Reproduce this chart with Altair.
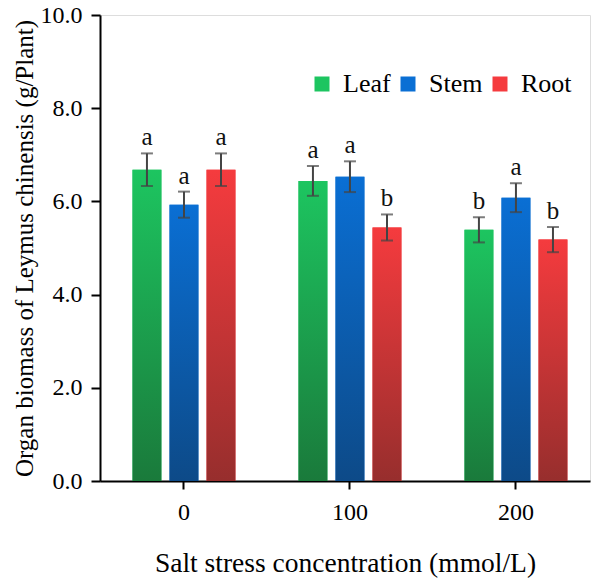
import altair as alt
import pandas as pd

concentrations = ["0", "100", "200"]
organs = ["Leaf", "Stem", "Root"]
leaf = [6.68, 6.44, 5.39]
stem = [5.93, 6.53, 6.08]
root = [6.68, 5.44, 5.18]
leaf_err = [0.35, 0.32, 0.27]
stem_err = [0.28, 0.33, 0.31]
root_err = [0.35, 0.28, 0.27]
leaf_sig = ["a", "a", "b"]
stem_sig = ["a", "a", "a"]
root_sig = ["a", "b", "b"]

top_colors = {"Leaf": "#1dc560", "Stem": "#0a6fd4", "Root": "#f53b3e"}
bottom_colors = {"Leaf": "#1a7a3b", "Stem": "#0d4a88", "Root": "#972e2d"}

rows = []
for organ, vals, errs, sigs in [("Leaf", leaf, leaf_err, leaf_sig),
                                ("Stem", stem, stem_err, stem_sig),
                                ("Root", root, root_err, root_sig)]:
    for c, v, e, s in zip(concentrations, vals, errs, sigs):
        rows.append({"conc": c, "organ": organ, "value": v,
                     "lo": v - e, "hi": v + e, "sig": s})
df = pd.DataFrame(rows)

FONT = "Liberation Serif"

x = alt.X("conc:N", sort=concentrations,
          scale=alt.Scale(paddingInner=0.38, paddingOuter=0.166, align=0.59),
          axis=alt.Axis(title="Salt stress concentration (mmol/L)", labelAngle=0,
                        labelFontSize=24, titleFontSize=27.5, labelPadding=11,
                        titlePadding=25, tickSize=8, domainColor="black",
                        tickColor="black", labelColor="black", titleColor="black",
                        labelFont=FONT, titleFont=FONT, domainWidth=2, tickWidth=2,
                        titleFontWeight="normal"))
xo = alt.XOffset("organ:N", sort=organs, scale=alt.Scale(paddingInner=0.22))
y = alt.Y("value:Q", scale=alt.Scale(domain=[0, 10]),
          axis=alt.Axis(title="Organ biomass of  Leymus chinensis (g/Plant)",
                        values=[0, 2, 4, 6, 8, 10], format=".1f", grid=False,
                        labelFontSize=24, titleFontSize=25, tickSize=9,
                        labelPadding=9, titlePadding=3, domainColor="black",
                        tickColor="black", labelColor="black", titleColor="black",
                        labelFont=FONT, titleFont=FONT, domainWidth=2, tickWidth=2,
                        titleFontWeight="normal"))

base = alt.Chart(df)

bars = base.mark_bar().encode(
    x=x, xOffset=xo, y=y,
    color=alt.Color("organ:N", sort=organs,
                    scale=alt.Scale(domain=organs,
                                    range=[top_colors[o] for o in organs]),
                    legend=alt.Legend(title=None, orient="none", legendX=209,
                                      legendY=56, direction="horizontal",
                                      symbolType="square", symbolSize=225,
                                      symbolStrokeWidth=0,
                                      labelFontSize=26, labelFont=FONT,
                                      labelColor="black", labelOffset=8,
                                      columnPadding=4))
)

grad_layers = []
for o in organs:
    grad_layers.append(
        base.transform_filter(alt.datum.organ == o).mark_bar(
            color=alt.Gradient(gradient="linear", x1=0, x2=0, y1=0, y2=1,
                               stops=[alt.GradientStop(color=top_colors[o], offset=0),
                                      alt.GradientStop(color=bottom_colors[o], offset=1)])
        ).encode(x=x, xOffset=xo, y=y)
    )

rules = base.mark_rule(color="#444444", strokeWidth=2).encode(
    x=x, xOffset=xo, y="lo:Q", y2="hi:Q")
caps_hi = base.mark_tick(color="#444444", thickness=2, size=12, orient="horizontal").encode(
    x=x, xOffset=xo, y="hi:Q")
caps_lo = base.mark_tick(color="#444444", thickness=2, size=12, orient="horizontal").encode(
    x=x, xOffset=xo, y="lo:Q")
labels = base.mark_text(font=FONT, fontSize=25, baseline="bottom", dy=-3,
                        color="#111111").encode(
    x=x, xOffset=xo, y="hi:Q", text="sig:N")

chart = alt.layer(bars, *grad_layers, rules, caps_hi, caps_lo, labels).properties(
    width=490, height=466,
    autosize=alt.AutoSizeParams(type="none"),
    padding={"left": 100, "top": 15, "right": 2, "bottom": 100},
).configure_view(stroke=None).configure(
    background="white", font=FONT
).configure_axis(labelFont=FONT, titleFont=FONT).configure_legend(labelFont=FONT)

chart.save("out.html", embed_options={"renderer": "svg", "actions": False})
